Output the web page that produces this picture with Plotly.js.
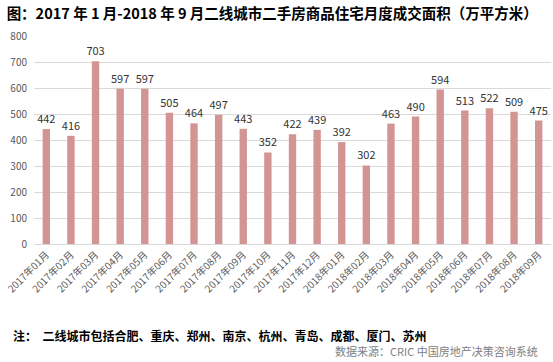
<!DOCTYPE html>
<html><head><meta charset="utf-8">
<script src="https://cdn.plot.ly/plotly-3.0.1.min.js"></script>
<style>body{margin:0;padding:0;background:#fff}#c{width:553px;height:362px}</style>
</head><body><div id="c"></div>
<script>
const categories = ["2017年01月","2017年02月","2017年03月","2017年04月","2017年05月","2017年06月","2017年07月","2017年08月","2017年09月","2017年10月","2017年11月","2017年12月","2018年01月","2018年02月","2018年03月","2018年04月","2018年05月","2018年06月","2018年07月","2018年08月","2018年09月"];
const areaValues = [442,416,703,597,597,505,464,497,443,352,422,439,392,302,463,490,594,513,522,509,475];
const yTicks = [0,100,200,300,400,500,600,700,800];
const titleText = "图：2017 年 1 月-2018 年 9 月二线城市二手房商品住宅月度成交面积（万平方米）";
const noteText = "注：  二线城市包括合肥、重庆、郑州、南京、杭州、青岛、成都、厦门、苏州";
const sourceText = "数据来源：CRIC 中国房地产决策咨询系统";
const font = "'Microsoft YaHei','Noto Sans CJK SC','Noto Sans',sans-serif";

const trace = {
  type: 'bar', x: categories, y: areaValues,
  marker: {color: '#D39494'}, width: 0.3,
  text: areaValues.map(String), textposition: 'outside', constraintext: 'none',
  textfont: {family: font, size: 11, color: '#333'},
  cliponaxis: false, hoverinfo: 'none'
};
const layout = {
  width: 553, height: 362,
  margin: {l: 34, r: 2, t: 36, b: 118},
  paper_bgcolor: '#fff', plot_bgcolor: '#fff',
  showlegend: false,
  font: {family: font},
  title: {text: titleText, x: 0.012, xanchor: 'left', y: 0.962, yanchor: 'middle',
          font: {family: font, size: 14.5, color: '#000', weight: 'bold'}},
  xaxis: {type: 'category', tickangle: -45, showgrid: false, zeroline: false,
          showline: true, linecolor: '#d9d9d9', linewidth: 1, ticks: '',
          tickfont: {family: font, size: 10, color: '#595959'}},
  yaxis: {range: [0, 800], tickvals: yTicks, showgrid: true, gridcolor: '#d9d9d9',
          zeroline: false, ticks: '', ticklabelstandoff: 6,
          tickfont: {family: font, size: 10, color: '#595959'}},
  annotations: [
    {text: '<b>' + noteText + '</b>', xref: 'paper', yref: 'paper', x: -0.045, y: -0.44,
     xanchor: 'left', yanchor: 'middle', showarrow: false,
     font: {family: font, size: 12, color: '#000'}},
    {text: sourceText, xref: 'paper', yref: 'paper', x: 0.978, y: -0.515,
     xanchor: 'right', yanchor: 'middle', showarrow: false,
     font: {family: font, size: 11, color: '#808080'}}
  ]
};
Plotly.newPlot('c', [trace], layout, {displayModeBar: false, staticPlot: true});
</script></body></html>
